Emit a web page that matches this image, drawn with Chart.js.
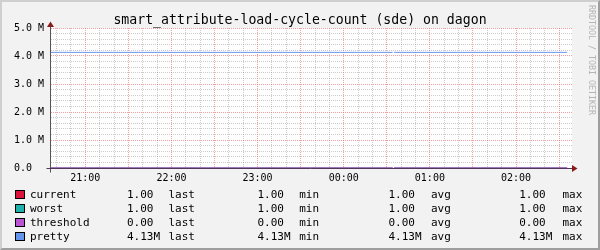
<!DOCTYPE html>
<html>
<head>
<meta charset="utf-8">
<script src="https://cdn.jsdelivr.net/npm/chart.js@4.4.1/dist/chart.umd.min.js"></script>
<style>
  html, body { margin: 0; padding: 0; background: #f2f2f2; }
  #wrap { position: relative; width: 600px; height: 250px; overflow: hidden; }
  #frame { position: absolute; left: 0; top: 0; width: 600px; height: 250px; box-sizing: border-box;
    border-top: 2px solid #cfcfcf; border-left: 2px solid #cfcfcf;
    border-right: 2px solid #9e9e9e; border-bottom: 2px solid #9e9e9e; }
  canvas { position: absolute; left: 0; top: 0; }
  .txt { position: absolute; font-family: "DejaVu Sans Mono", monospace; color: #000; white-space: pre; }
  #title { left: 0; width: 600px; text-align: center; top: 11.5px; font-size: 13.2px; line-height: 16px; }
  #mark { left: 587px; top: 5px; font-size: 8.3px; line-height: 9px; color: #b4b4b4; writing-mode: vertical-rl; }
  .row { position: absolute; left: 0; width: 600px; height: 14px; font-size: 11px; line-height: 14px; }
  .row span { position: absolute; top: 0; }
  .row .sw { top: 2.5px; width: 10px; height: 9px; box-sizing: border-box; border: 1px solid #000; }
</style>
</head>
<body>
<div id="wrap">
  <div id="frame"></div>
  <canvas id="chart" width="600" height="250"></canvas>
  <div id="title" class="txt">smart_attribute-load-cycle-count (sde) on dagon</div>
  <div id="mark" class="txt">RRDTOOL / TOBI OETIKER</div>
  <div id="legend"></div>
</div>
<script>
// sample times, in minutes after 20:00
const times = [36.1, 274.1, 274.6, 275.1, 395.6];

// series values (null = missing sample)
const current = [1, 1, null, 1, 1];
const worst = [1, 1, null, 1, 1];
const threshold = [0, 0, null, 0, 0];
const pretty = [4.13e6, 4.13e6, null, 4.13e6, 4.13e6];

const seriesNames = ['current', 'worst', 'threshold', 'pretty'];
const seriesColors = ['#dc143c', '#20b2aa', '#ba55d3', '#6495ed'];

// axis range and tick labels
const xMin = 36.1, xMax = 399.0;
const hourTicks = [60, 120, 180, 240, 300, 360];
const hourLabels = ['21:00', '22:00', '23:00', '00:00', '01:00', '02:00'];
const yTicks = [0, 1e6, 2e6, 3e6, 4e6, 5e6];
const yLabels = ['0.0', '1.0 M', '2.0 M', '3.0 M', '4.0 M', '5.0 M'];

const allSeries = [current, worst, threshold, pretty];

const MAJOR = 'rgba(235, 80, 80, 0.55)';
const MINOR = 'rgba(140, 140, 140, 0.45)';

function gridColor(v, major, minor) {
    if (v % major === 0) return MAJOR;
    if (v % minor === 0) return MINOR;
    return 'rgba(0,0,0,0)';
}

// white plot area, axes and arrows on top of the data
const rrdFrame = {
    id: 'rrdFrame',
    beforeDraw(chart) {
        const { ctx, chartArea: a } = chart;
        ctx.save();
        ctx.fillStyle = '#ffffff';
        ctx.fillRect(a.left, a.top, a.right - a.left, a.bottom - a.top);
        ctx.restore();
    },
    afterDatasetsDraw(chart) {
        const { ctx, chartArea: a } = chart;
        const x0 = Math.round(a.left) - 0.5;
        const y0 = Math.round(a.bottom) + 0.5;
        const xr = Math.round(a.right);
        const yt = Math.round(a.top);
        ctx.save();
        ctx.lineWidth = 1;
        ctx.strokeStyle = '#555555';
        ctx.beginPath();
        ctx.moveTo(x0, y0 + 4);
        ctx.lineTo(x0, yt - 3);
        ctx.stroke();
        ctx.strokeStyle = '#54355b';
        ctx.beginPath();
        ctx.moveTo(x0 - 4, y0);
        ctx.lineTo(xr + 3, y0);
        ctx.stroke();
        ctx.fillStyle = '#8b1a1a';
        ctx.beginPath();
        ctx.moveTo(xr, y0 - 3.5);
        ctx.lineTo(xr + 5.5, y0);
        ctx.lineTo(xr, y0 + 3.5);
        ctx.closePath();
        ctx.fill();
        ctx.beginPath();
        ctx.moveTo(x0 - 3.5, yt - 1);
        ctx.lineTo(x0, yt - 6.5);
        ctx.lineTo(x0 + 3.5, yt - 1);
        ctx.closePath();
        ctx.fill();
        ctx.restore();
    }
};

new Chart(document.getElementById('chart'), {
    type: 'line',
    data: {
        datasets: allSeries.map((vals, i) => ({
            label: seriesNames[i],
            data: times.map((t, j) => ({ x: t, y: vals[j] })),
            borderColor: seriesColors[i],
            borderWidth: 1,
            pointRadius: 0,
            tension: 0,
            fill: false,
            spanGaps: false,
            order: allSeries.length - 1 - i
        }))
    },
    options: {
        responsive: false,
        animation: false,
        devicePixelRatio: 1,
        events: [],
        layout: { padding: { top: 28, left: 14, right: 28, bottom: 0 } },
        plugins: {
            legend: { display: false },
            title: { display: false },
            tooltip: { enabled: false }
        },
        scales: {
            x: {
                type: 'linear',
                min: xMin,
                max: xMax,
                afterFit(s) { s.height = 82; s.paddingLeft = 0; s.paddingRight = 0; },
                border: { display: false, dash: [1, 1] },
                grid: { drawTicks: false, color: c => gridColor(c.tick.value, 30, 10) },
                ticks: {
                    stepSize: 10,
                    includeBounds: false,
                    autoSkip: false,
                    maxRotation: 0,
                    padding: 4,
                    color: '#000',
                    font: { family: 'DejaVu Sans Mono', size: 10 },
                    callback: v => {
                        const i = hourTicks.indexOf(v);
                        return i >= 0 ? hourLabels[i] : '';
                    }
                }
            },
            y: {
                min: 0,
                max: 5e6,
                afterFit(s) { s.width = 37; s.paddingTop = 0; s.paddingBottom = 0; },
                border: { display: false, dash: [1, 1] },
                grid: { drawTicks: false, color: c => gridColor(c.tick.value, 1e6, 2e5) },
                ticks: {
                    stepSize: 2e5,
                    autoSkip: false,
                    crossAlign: 'far',
                    padding: 0,
                    color: '#000',
                    font: { family: 'DejaVu Sans Mono', size: 10 },
                    callback: v => {
                        const i = yTicks.indexOf(v);
                        return i >= 0 ? yLabels[i] : '';
                    }
                }
            }
        }
    },
    plugins: [rrdFrame]
});

// legend with last / min / avg / max per series
function stats(vals) {
    const v = vals.filter(x => x !== null);
    return {
        last: v[v.length - 1],
        min: Math.min(...v),
        avg: v.reduce((s, x) => s + x, 0) / v.length,
        max: Math.max(...v)
    };
}

function fmt(v) {
    return v >= 1e6 ? (v / 1e6).toFixed(2) + 'M' : v.toFixed(2);
}

const legend = document.getElementById('legend');
allSeries.forEach((vals, i) => {
    const s = stats(vals);
    const row = document.createElement('div');
    row.className = 'row txt';
    row.style.top = (187.5 + 14 * i) + 'px';
    const parts = [
        [30, seriesNames[i]],
        [126.9, fmt(s.last)], [168.5, 'last'],
        [257.5, fmt(s.min)], [299.2, 'min'],
        [388.5, fmt(s.avg)], [430.9, 'avg'],
        [519.2, fmt(s.max)], [562.5, 'max']
    ];
    const sw = document.createElement('span');
    sw.className = 'sw';
    sw.style.left = '15px';
    sw.style.background = seriesColors[i];
    row.appendChild(sw);
    parts.forEach(([x, text]) => {
        const sp = document.createElement('span');
        sp.style.left = x + 'px';
        sp.textContent = text;
        row.appendChild(sp);
    });
    legend.appendChild(row);
});
</script>
</body>
</html>
